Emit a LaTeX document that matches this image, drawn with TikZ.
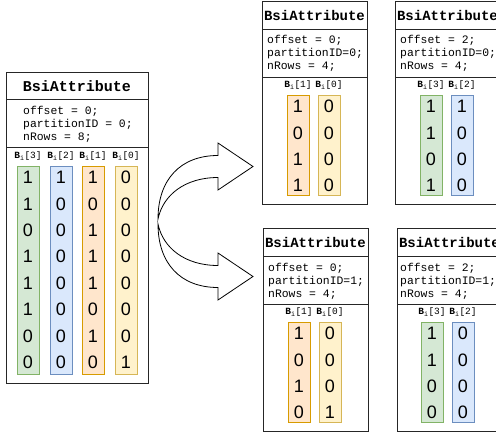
\documentclass[tikz,border=0pt]{standalone}
\usepackage{fontspec}
\newfontfamily\monof{Liberation Mono}
\newfontfamily\sansf{Liberation Sans}
\definecolor{gfill}{HTML}{D5E8D4}\definecolor{gline}{HTML}{82B366}
\definecolor{bfill}{HTML}{DAE8FC}\definecolor{bline}{HTML}{6C8EBF}
\definecolor{ofill}{HTML}{FFE6CC}\definecolor{oline}{HTML}{D79B00}
\definecolor{yfill}{HTML}{FFF2CC}\definecolor{yline}{HTML}{D6B656}
\tikzset{
 frame/.style={draw=black!85,line width=0.8pt},
 hdrbig/.style={font=\monof\bfseries\fontsize{15}{18}\selectfont, inner sep=0pt},
 hdrsmall/.style={font=\monof\bfseries\fontsize{14}{17}\selectfont, inner sep=0pt},
 body/.style={font=\monof\fontsize{11.4}{13}\selectfont, align=left, anchor=west, inner sep=0pt},
 collbl/.style={font=\monof\fontsize{9.5}{10}\selectfont, inner sep=0pt},
 digit/.style={font=\sansf\fontsize{18}{20}\selectfont, inner sep=0pt},
 colbox/.style={line width=0.8pt, minimum width=22pt, inner sep=0pt, anchor=north west},
 gcol/.style={fill=gfill,draw=gline},
 bcol/.style={fill=bfill,draw=bline},
 ocol/.style={fill=ofill,draw=oline},
 ycol/.style={fill=yfill,draw=yline},
 bigarrow/.style={draw=black, fill=white, line width=0.8pt, line join=miter}
}
% name, xleft, ytop, height, style, label, digits
\newcommand\bitcol[7]{%
  \node[colbox,#5,minimum height=#4pt] (#1) at (#2,#3) {};
  \node[collbl] (#1-lbl) at (#2+11,#3-10) {{\bfseries B}\textsubscript{i}[#6]};
  \foreach \d [count=\k from 0] in {#7} {
    \node[digit] (#1-\k) at (#2+11,#3+11.5+\k*26.4) {\d};
  }%
}
% name, x0, y0
\newcommand\smallframe[3]{%
  \node[frame, minimum width=105pt, minimum height=203pt, inner sep=0pt, anchor=north west] (#1) at (#2,#3) {};
  \draw[frame] (#2,#3+28) -- (#2+105,#3+28);
  \draw[frame] (#2,#3+76) -- (#2+105,#3+76);
  \node[hdrsmall] (#1-hdr) at (#2+52.5,#3+14) {BsiAttribute};
}
\begin{document}
\begin{tikzpicture}[x=1pt,y=-1pt]
\useasboundingbox (0,0) rectangle (496,434);
\clip (0,0) rectangle (496,434);
\fill[white] (0,0) rectangle (496,434);

% ---- left big box
\node[frame, minimum width=142pt, minimum height=311pt, inner sep=0pt, anchor=north west] (L) at (6,72) {};
\draw[frame] (6,99) -- (148,99);
\draw[frame] (6,147) -- (148,147);
\node[hdrbig] (L-hdr) at (77,86) {BsiAttribute};
\node[body] (L-body) at (23,124) {offset = 0;\\partitionID = 0;\\nRows = 8;};
\bitcol{L3}{17}{166}{208}{gcol}{3}{1,1,0,1,1,1,0,0}
\bitcol{L2}{50}{166}{208}{bcol}{2}{1,0,0,0,0,0,0,0}
\bitcol{L1}{82}{166}{208}{ocol}{1}{1,0,1,1,1,0,1,0}
\bitcol{L0}{115}{166}{208}{ycol}{0}{0,0,0,0,0,0,0,1}

% ---- arrows
\draw[bigarrow] (158,219) .. controls (158,180) and (180,155.5) .. (218,155.5)
  -- (218,143) -- (253,166.5) -- (218,190) -- (218,177.5)
  .. controls (185,177.5) and (163,195) .. (158,219) -- cycle;
\draw[bigarrow] (158,224) .. controls (158,263) and (180,287.5) .. (218,287.5)
  -- (218,300) -- (253,276.5) -- (218,253) -- (218,265.5)
  .. controls (185,265.5) and (163,248) .. (158,224) -- cycle;

% ---- top right boxes
\smallframe{A}{262}{1}
\node[body] (A-body) at (267,53) {offset = 0;\\partitionID=0;\\nRows = 4;};
\bitcol{A1}{287}{95}{100}{ocol}{1}{1,0,1,1}
\bitcol{A0}{318}{95}{100}{ycol}{0}{0,0,0,0}

\smallframe{B}{395}{1}
\node[body] (B-body) at (400,53) {offset = 2;\\partitionID=0;\\nRows = 4;};
\bitcol{B3}{420}{95}{100}{gcol}{3}{1,1,0,1}
\bitcol{B2}{451}{95}{100}{bcol}{2}{1,0,0,0}

% ---- bottom right boxes
\smallframe{C}{263}{228}
\node[body] (C-body) at (268,281) {offset = 0;\\partitionID=1;\\nRows = 4;};
\bitcol{C1}{288}{322}{100}{ocol}{1}{1,0,1,0}
\bitcol{C0}{319}{322}{100}{ycol}{0}{0,0,0,1}

\smallframe{D}{397}{228}
\node[body] (D-body) at (400,281) {offset = 2;\\partitionID=1;\\nRows = 4;};
\bitcol{D3}{421}{322}{100}{gcol}{3}{1,1,0,0}
\bitcol{D2}{452}{322}{100}{bcol}{2}{0,0,0,0}
\end{tikzpicture}
\end{document}
